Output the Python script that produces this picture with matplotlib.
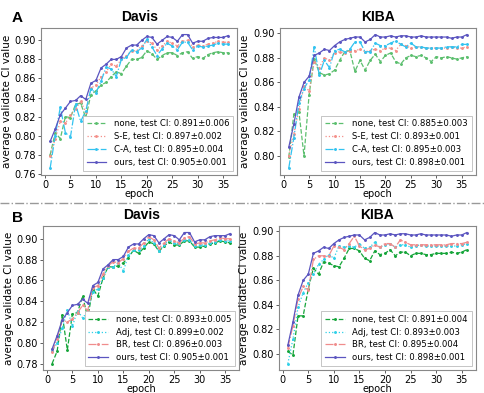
import numpy as np
import matplotlib
matplotlib.use("Agg")
import matplotlib.pyplot as plt
from matplotlib.lines import Line2D
from matplotlib.ticker import MultipleLocator, FormatStrFormatter

epochs = list(range(1, 37))

# ---- A / Davis ----
davis_ours = [0.794, 0.807, 0.822, 0.829, 0.836, 0.837, 0.842, 0.838, 0.855, 0.858,
              0.871, 0.875, 0.880, 0.880, 0.883, 0.892, 0.895, 0.895, 0.900, 0.904,
              0.903, 0.896, 0.900, 0.904, 0.903, 0.899, 0.906, 0.906, 0.897, 0.899,
              0.899, 0.902, 0.903, 0.903, 0.903, 0.905]
davis_se = [0.779, 0.797, 0.815, 0.813, 0.822, 0.828, 0.836, 0.825, 0.850, 0.853,
            0.862, 0.867, 0.875, 0.873, 0.880, 0.884, 0.889, 0.889, 0.894, 0.899,
            0.897, 0.890, 0.894, 0.899, 0.897, 0.894, 0.899, 0.900, 0.893, 0.895,
            0.894, 0.896, 0.897, 0.899, 0.898, 0.898]
davis_ca = [0.766, 0.800, 0.830, 0.803, 0.799, 0.833, 0.815, 0.826, 0.849, 0.845,
            0.857, 0.872, 0.870, 0.862, 0.880, 0.882, 0.890, 0.888, 0.892, 0.901,
            0.893, 0.884, 0.891, 0.897, 0.894, 0.890, 0.898, 0.898, 0.890, 0.894,
            0.893, 0.894, 0.895, 0.897, 0.896, 0.896]
davis_none_a = [0.780, 0.803, 0.797, 0.820, 0.819, 0.833, 0.834, 0.819, 0.843, 0.847,
                0.853, 0.856, 0.862, 0.867, 0.865, 0.873, 0.880, 0.880, 0.882, 0.889,
                0.886, 0.880, 0.884, 0.887, 0.887, 0.884, 0.887, 0.888, 0.881, 0.883,
                0.881, 0.885, 0.887, 0.888, 0.887, 0.887]

# ---- A / KIBA ----
kiba_ours = [0.807, 0.826, 0.848, 0.860, 0.865, 0.882, 0.884, 0.887, 0.886, 0.890,
             0.893, 0.895, 0.896, 0.897, 0.897, 0.893, 0.895, 0.899, 0.897, 0.897,
             0.898, 0.897, 0.898, 0.898, 0.897, 0.897, 0.898, 0.897, 0.897, 0.897,
             0.897, 0.897, 0.896, 0.897, 0.897, 0.899]
kiba_se = [0.800, 0.818, 0.838, 0.857, 0.853, 0.877, 0.872, 0.880, 0.878, 0.884,
           0.885, 0.884, 0.886, 0.886, 0.887, 0.885, 0.886, 0.887, 0.886, 0.888,
           0.888, 0.886, 0.891, 0.890, 0.888, 0.889, 0.889, 0.888, 0.888, 0.888,
           0.888, 0.888, 0.889, 0.888, 0.888, 0.889]
kiba_ca = [0.790, 0.815, 0.843, 0.855, 0.862, 0.889, 0.866, 0.878, 0.872, 0.886,
           0.887, 0.885, 0.887, 0.893, 0.893, 0.885, 0.885, 0.892, 0.890, 0.890,
           0.892, 0.894, 0.891, 0.889, 0.892, 0.889, 0.889, 0.888, 0.888, 0.888,
           0.888, 0.889, 0.889, 0.889, 0.891, 0.891]
kiba_none_a = [0.799, 0.834, 0.836, 0.800, 0.850, 0.879, 0.868, 0.866, 0.867, 0.870,
               0.878, 0.885, 0.886, 0.869, 0.878, 0.870, 0.878, 0.883, 0.877, 0.882,
               0.884, 0.877, 0.875, 0.880, 0.882, 0.881, 0.882, 0.880, 0.877, 0.881,
               0.880, 0.881, 0.880, 0.879, 0.880, 0.881]

# ---- B / Davis ----
davis_none_b = [0.780, 0.792, 0.827, 0.793, 0.828, 0.829, 0.845, 0.824, 0.852, 0.845,
                0.862, 0.873, 0.873, 0.874, 0.877, 0.882, 0.889, 0.886, 0.891, 0.897,
                0.895, 0.888, 0.893, 0.897, 0.894, 0.894, 0.898, 0.898, 0.892, 0.892,
                0.893, 0.895, 0.896, 0.898, 0.897, 0.896]
davis_adj = [0.792, 0.800, 0.814, 0.832, 0.816, 0.831, 0.824, 0.830, 0.849, 0.852,
             0.862, 0.873, 0.873, 0.877, 0.869, 0.884, 0.889, 0.889, 0.893, 0.900,
             0.896, 0.888, 0.894, 0.899, 0.896, 0.895, 0.899, 0.899, 0.893, 0.894,
             0.894, 0.896, 0.897, 0.899, 0.898, 0.898]
davis_br = [0.791, 0.804, 0.822, 0.820, 0.823, 0.829, 0.836, 0.831, 0.853, 0.855,
            0.866, 0.874, 0.878, 0.877, 0.881, 0.888, 0.891, 0.891, 0.896, 0.902,
            0.899, 0.891, 0.896, 0.900, 0.898, 0.896, 0.901, 0.902, 0.895, 0.896,
            0.896, 0.898, 0.899, 0.901, 0.900, 0.900]

# ---- B / KIBA ----
kiba_none_b = [0.802, 0.799, 0.831, 0.831, 0.853, 0.870, 0.865, 0.875, 0.874, 0.872,
               0.871, 0.878, 0.886, 0.886, 0.884, 0.878, 0.876, 0.884, 0.881, 0.882,
               0.885, 0.880, 0.883, 0.883, 0.880, 0.882, 0.882, 0.881, 0.881, 0.882,
               0.882, 0.882, 0.883, 0.882, 0.883, 0.885]
kiba_adj = [0.792, 0.812, 0.838, 0.850, 0.858, 0.865, 0.873, 0.877, 0.881, 0.878,
            0.888, 0.887, 0.888, 0.887, 0.890, 0.886, 0.887, 0.891, 0.887, 0.889,
            0.890, 0.887, 0.889, 0.889, 0.887, 0.888, 0.889, 0.888, 0.888, 0.888,
            0.888, 0.888, 0.888, 0.888, 0.889, 0.890]
kiba_br = [0.805, 0.823, 0.845, 0.855, 0.852, 0.877, 0.880, 0.880, 0.880, 0.888,
           0.887, 0.885, 0.890, 0.896, 0.888, 0.885, 0.886, 0.889, 0.887, 0.890,
           0.890, 0.887, 0.893, 0.891, 0.889, 0.889, 0.889, 0.889, 0.889, 0.889,
           0.889, 0.889, 0.890, 0.890, 0.890, 0.891]

labels_a_davis = ["none, test CI: 0.891\u00b10.006", "S-E, test CI: 0.897\u00b10.002",
                  "C-A, test CI: 0.895\u00b10.004", "ours, test CI: 0.905\u00b10.001"]
labels_a_kiba = ["none, test CI: 0.885\u00b10.003", "S-E, test CI: 0.893\u00b10.001",
                 "C-A, test CI: 0.895\u00b10.003", "ours, test CI: 0.898\u00b10.001"]
labels_b_davis = ["none, test CI: 0.893\u00b10.005", "Adj, test CI: 0.899\u00b10.002",
                  "BR, test CI: 0.896\u00b10.003", "ours, test CI: 0.905\u00b10.001"]
labels_b_kiba = ["none, test CI: 0.891\u00b10.004", "Adj, test CI: 0.893\u00b10.003",
                 "BR, test CI: 0.895\u00b10.004", "ours, test CI: 0.898\u00b10.001"]

# styles (color, linestyle) for each row
styles_a = [("#5cbf6f", "--"), ("#f4908a", ":"), ("#33c3f0", "-."), ("#5b55c0", "-")]
styles_b = [("#16a53a", "--"), ("#2fd0e8", ":"), ("#f08c8c", "-."), ("#5b55c0", "-")]


def panel(ax, series, labels, styles, title):
    for ys, lab, (c, ls) in zip(series, labels, styles):
        ax.plot(epochs, ys, color=c, linestyle=ls, lw=0.9, marker=".",
                markersize=2.2, label=lab)
    ax.set_title(title, fontsize=10, fontweight="bold", family="Liberation Sans", pad=5)
    ax.set_xticks([0, 5, 10, 15, 20, 25, 30, 35])
    ax.yaxis.set_major_locator(MultipleLocator(0.02))
    ax.yaxis.set_major_formatter(FormatStrFormatter("%.2f"))
    ax.tick_params(labelsize=7, length=2.5, width=0.6, pad=1.2, color="#444444")
    ax.set_xlabel("epoch", fontsize=7, labelpad=-0.8)
    ax.set_ylabel("average validate CI value", fontsize=7.5, labelpad=2)
    for s in ax.spines.values():
        s.set_color("#888888")
        s.set_linewidth(0.8)
    leg = ax.legend(loc="lower right", fontsize=6.1, handlelength=2.3,
                    labelspacing=0.45, borderpad=0.45, handletextpad=0.9,
                    framealpha=1, fancybox=False)
    leg.get_frame().set_edgecolor("#bbbbbb")
    leg.get_frame().set_linewidth(0.6)


fig = plt.figure(figsize=(4.85, 3.93), dpi=100)
ax1 = fig.add_axes([0.085, 0.555, 0.404, 0.374])
ax2 = fig.add_axes([0.577, 0.555, 0.404, 0.374])
ax3 = fig.add_axes([0.089, 0.058, 0.404, 0.367])
ax4 = fig.add_axes([0.575, 0.058, 0.406, 0.367])

panel(ax1, [davis_none_a, davis_se, davis_ca, davis_ours], labels_a_davis, styles_a, "Davis")
panel(ax2, [kiba_none_a, kiba_se, kiba_ca, kiba_ours], labels_a_kiba, styles_a, "KIBA")
panel(ax3, [davis_none_b, davis_adj, davis_br, davis_ours], labels_b_davis, styles_b, "Davis")
panel(ax4, [kiba_none_b, kiba_adj, kiba_br, kiba_ours], labels_b_kiba, styles_b, "KIBA")

fig.text(0.025, 0.955, "A", fontsize=11, fontweight="bold", family="Liberation Sans", va="center")
fig.text(0.025, 0.445, "B", fontsize=11, fontweight="bold", family="Liberation Sans", va="center")
fig.add_artist(Line2D([0.0, 1.0], [0.483, 0.483], transform=fig.transFigure,
                      color="#999999", lw=1.0, linestyle="-."))

fig.savefig("out.png", dpi=100)
